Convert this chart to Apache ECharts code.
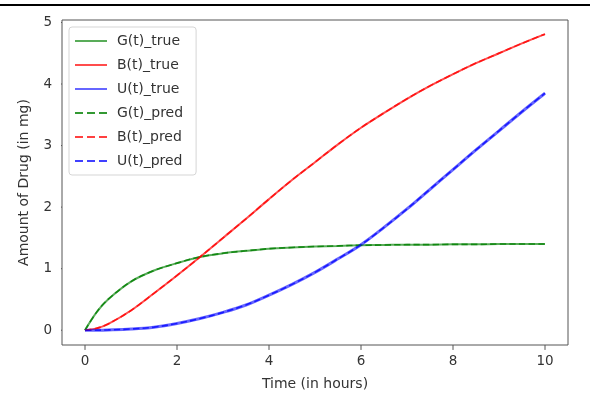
<!DOCTYPE html>
<html>
<head>
<meta charset="utf-8">
<script src="https://cdn.jsdelivr.net/npm/echarts@6/dist/echarts.min.js"></script>
<style>html,body{margin:0;padding:0;background:#fff}#c{width:590px;height:396px}</style>
</head>
<body>
<div id="c"></div>
<script>
const timeHours = [0,0.25,0.5,1,1.5,2,2.5,3,3.5,4,4.5,5,5.5,6,6.5,7,7.5,8,8.5,9,9.5,10];
const gTrue = [0,0.29,0.50,0.79,0.97,1.09,1.19,1.25,1.29,1.325,1.345,1.36,1.37,1.38,1.385,1.39,1.39,1.395,1.395,1.40,1.40,1.40];
const bTrue = [0,0.03,0.10,0.32,0.60,0.89,1.19,1.50,1.81,2.13,2.44,2.73,3.02,3.29,3.53,3.76,3.97,4.16,4.34,4.50,4.66,4.81];
const uTrue = [0,0.001,0.005,0.02,0.05,0.11,0.19,0.29,0.41,0.57,0.745,0.94,1.16,1.39,1.67,1.97,2.29,2.61,2.93,3.24,3.55,3.85];
const gPred = gTrue.slice();
const bPred = bTrue.slice();
const uPred = uTrue.slice();
const xTicks = [0,2,4,6,8,10];
const yTicks = [0,1,2,3,4,5];
const seriesNames = ['G(t)_true','B(t)_true','U(t)_true','G(t)_pred','B(t)_pred','U(t)_pred'];
const xRange = [-0.5, 10.5];
const yRange = [-0.24, 5.04];

const W = 590, H = 396;
const GRID = {left:62, right:22, top:20, bottom:46};
const TICK_LEN = 5, TICK_COLOR = '#555';
const font = 'DejaVu Sans';
const pts = arr => timeHours.map((t,i)=>[t,arr[i]]);

function mk(name, data, color, type, width, opacity){
  return {name, type:'line', data:pts(data), showSymbol:false, symbol:'none', smooth:0.35,
    lineStyle:{color, width, type, opacity}, itemStyle:{color, opacity}, z: type==='dashed'?3:2};
}
// tick length expressed in axis units so the ticks go through the axes' own scales
const yUnitsPerPx = (yRange[1]-yRange[0]) / (H - GRID.top - GRID.bottom);
const xUnitsPerPx = (xRange[1]-xRange[0]) / (W - GRID.left - GRID.right);
function tickSeries(){
  const out = [];
  xTicks.forEach(v => out.push({type:'line', silent:true, clip:false, symbol:'none', showSymbol:false,
    tooltip:{show:false}, z:10, animation:false,
    data:[[v, yRange[0]], [v, yRange[0] - TICK_LEN*yUnitsPerPx]],
    lineStyle:{color:TICK_COLOR, width:1}}));
  yTicks.forEach(v => out.push({type:'line', silent:true, clip:false, symbol:'none', showSymbol:false,
    tooltip:{show:false}, z:10, animation:false,
    data:[[xRange[0], v], [xRange[0] - TICK_LEN*xUnitsPerPx, v]],
    lineStyle:{color:TICK_COLOR, width:1}}));
  return out;
}
const chart = echarts.init(document.getElementById('c'));
chart.setOption({
  animation:false,
  textStyle:{fontFamily:font},
  graphic:{elements:[{id:'topbar', type:'rect', left:0, top:4, shape:{width:590,height:2}, style:{fill:'#000'}}]},
  grid:{left:GRID.left, right:GRID.right, top:GRID.top, bottom:GRID.bottom, show:true, borderColor:'#555', borderWidth:1},
  legend:{orient:'vertical', left:69, top:27, itemWidth:32, itemHeight:12, itemGap:10,
    padding:[7,13,7,5], backgroundColor:'#fff', borderColor:'#d5d5d5', borderWidth:1, borderRadius:3,
    itemStyle:{opacity:0},
    textStyle:{fontFamily:font, fontSize:14, color:'#333', padding:[0,0,0,5]},
    data:seriesNames},
  xAxis:{type:'value', min:xRange[0], max:xRange[1], splitLine:{show:false},
    axisLine:{show:false, onZero:false},
    axisTick:{show:false},
    axisLabel:{customValues:xTicks, fontFamily:font, fontSize:13.5, color:'#333', margin:9},
    name:'Time (in hours)', nameLocation:'middle', nameGap:32,
    nameTextStyle:{fontFamily:font, fontSize:14, color:'#333'}},
  yAxis:{type:'value', min:yRange[0], max:yRange[1], splitLine:{show:false},
    axisLine:{show:false, onZero:false},
    axisTick:{show:false},
    axisLabel:{customValues:yTicks, fontFamily:font, fontSize:13.5, color:'#333', margin:10},
    name:'Amount of Drug (in mg)', nameLocation:'middle', nameGap:31, nameRotate:90,
    nameTextStyle:{fontFamily:font, fontSize:14, color:'#333'}},
  series:[
    mk(seriesNames[0], gTrue, '#008000', 'solid', 2, 0.65),
    mk(seriesNames[1], bTrue, '#ff0000', 'solid', 2, 0.7),
    mk(seriesNames[2], uTrue, '#0000ff', 'solid', 3, 0.6),
    mk(seriesNames[3], gPred, '#008000', 'dashed', 1.6, 0.8),
    mk(seriesNames[4], bPred, '#ff0000', 'dashed', 1.6, 0.75),
    mk(seriesNames[5], uPred, '#0000ff', 'dashed', 1.6, 0.75)
  ].concat(tickSeries())
});
</script>
</body>
</html>
